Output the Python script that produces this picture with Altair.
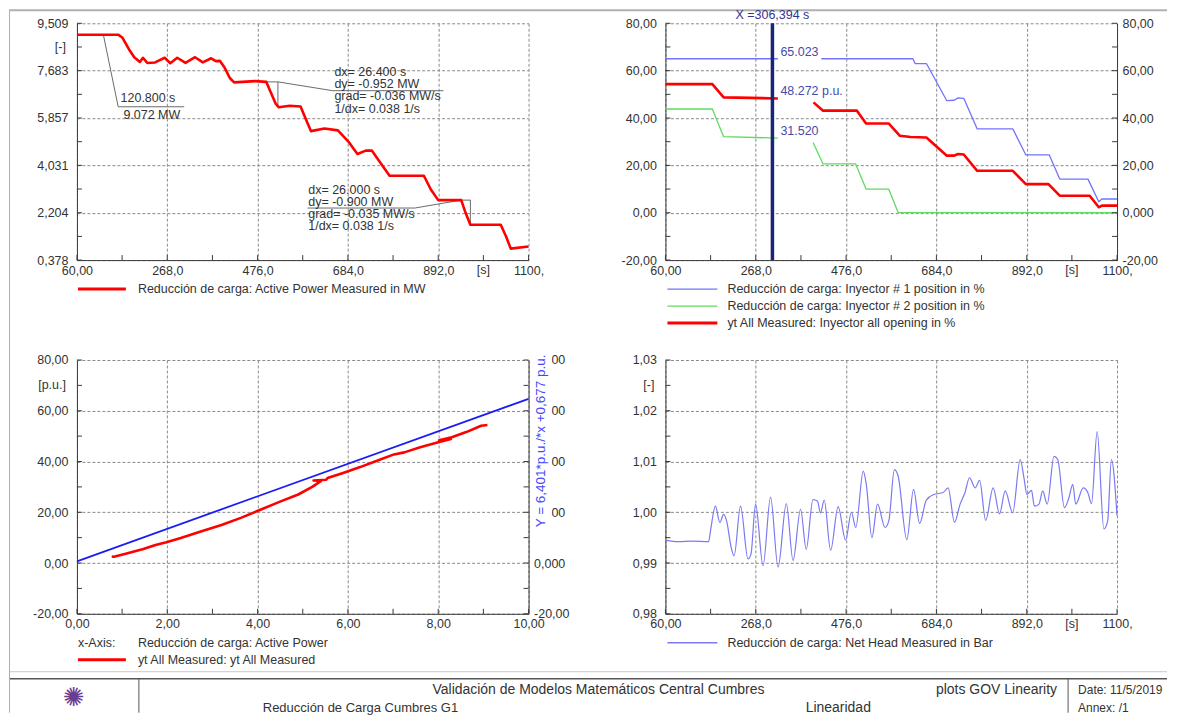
import altair as alt
import pandas as pd

FONT = "Liberation Sans"
FS = 12.5
W = 452
H1 = 237
H2 = 254
GRID = "#8a8a8a"
AXC = "#3a3a3a"
TXT = "#333333"
RED = "#ff0000"

# ---------------- shared time axis ----------------
T_MAJOR = [60, 268, 476, 684, 892, 1100]
T_LABELS = ["60,00", "268,0", "476,0", "684,0", "892,0", "1100,"]
T_MINOR = [164, 372, 580, 788, 996]

# ---------------- top-left: active power ----------------
MW_MAJOR = [0.378, 2.204, 4.031, 5.857, 7.683, 9.509]
MW_LABELS = ["0,378", "2,204", "4,031", "5,857", "7,683", "9,509"]
MW_MINOR = [1.291, 3.118, 4.944, 6.770, 8.596]

power_t = [60, 155, 165, 180, 192, 205, 212, 222, 240, 262, 275, 291, 310, 332, 350, 369, 380, 389,
           400, 412, 422, 470, 496, 505, 518, 525, 550, 575, 585, 599, 630, 661, 685, 706, 725, 739,
           760, 780, 859, 875, 892, 945, 955, 966, 1036, 1048, 1059, 1100]
power_mw = [9.07, 9.07, 8.95, 8.50, 8.20, 8.02, 8.18, 7.98, 8.00, 8.18, 7.97, 8.18, 7.98, 8.20, 8.00,
            8.16, 8.05, 8.06, 7.80, 7.40, 7.23, 7.28, 7.25, 6.90, 6.40, 6.27, 6.33, 6.30, 5.90, 5.35,
            5.45, 5.38, 4.95, 4.47, 4.60, 4.60, 4.10, 3.63, 3.63, 3.10, 2.69, 2.69, 2.20, 1.74, 1.74,
            1.30, 0.82, 0.90]

ann_t = [120.8, 155, 307, 496.4, 522.8, 522.8, 522.8, 522.8, 649, 904,
         940, 967, 966, 966, 945, 838, 591]
ann_v = [9.072, 6.29, 6.29, 7.25, 7.25, 7.25, 6.30, 7.25, 6.91, 6.91,
         2.69, 2.69, 2.69, 1.79, 2.69, 2.385, 2.385]
ann_g = [0, 0, 0, 1, 1, 2, 2, 3, 3, 3, 4, 4, 5, 5, 6, 6, 6]

ann_text = ["120.800 s", "9.072 MW",
            "dx= 26.400 s\ndy= -0.952  MW\ngrad= -0.036 MW/s\n1/dx= 0.038 1/s",
            "dx= 26.000 s\ndy= -0.900 MW\ngrad= -0.035 MW/s\n1/dx= 0.038 1/s"]
ann_text_t = [160.5, 167, 652.9, 592.7]
ann_text_v = [6.29, 6.29, 7.863, 3.323]

# ---------------- top-right: injectors ----------------
PCT_MAJOR = [-20, 0, 20, 40, 60, 80]
PCT_LABELS_L = ["-20,00", "0,00", "20,00", "40,00", "60,00", "80,00"]
PCT_LABELS_R = ["-20,00", "0,000", "20,00", "40,00", "60,00", "80,00"]
PCT_MINOR = [-10, 10, 30, 50, 70]

inj1_t = [60, 319, 419, 630, 635, 661, 708, 725, 734, 747, 778, 860, 890, 944, 968, 1033, 1058, 1065, 1100]
inj1_v = [65.02, 65.02, 65.02, 65.02, 63.0, 63.0, 47.3, 47.5, 48.5, 48.3, 35.4, 35.4, 24.4, 24.4,
          14.2, 14.2, 4.6, 5.8, 5.8]
inj1_seg = [0, 0] + [1] * 17

inj2_t = [60, 168, 194, 319, 400, 423, 498, 522, 574, 596, 1100]
inj2_v = [43.8, 43.8, 32.1, 31.52, 29.7, 20.6, 20.6, 10.0, 10.0, 0.1, 0.0]
inj2_seg = [0, 0, 0, 0, 1, 1, 1, 1, 1, 1, 1]

all_t = [60, 168, 194, 319, 401, 423, 501, 522, 574, 600, 625, 661, 708, 725, 734, 747, 778, 860,
         890, 942, 968, 1037, 1058, 1065, 1100]
all_v = [54.3, 54.3, 48.7, 48.27, 46.6, 43.1, 43.1, 37.7, 37.7, 32.5, 32.0, 31.8, 24.1, 24.1, 24.8,
         24.6, 17.7, 17.7, 12.1, 12.1, 7.2, 7.2, 2.3, 3.0, 3.0]
all_seg = [0, 0, 0, 0] + [1] * 21

cursor_t = 306.394
cursor_vals = [65.023, 48.272, 31.520]
cursor_labels = ["65.023", "48.272 p.u.", "31.520"]

# ---------------- bottom-left: linearity ----------------
PW_MAJOR = [0, 2, 4, 6, 8, 10]
PW_LABELS = ["0,00", "2,00", "4,00", "6,00", "8,00", "10,00"]
PW_MINOR = [1, 3, 5, 7, 9]

xy_power = [9.09, 8.95, 8.62, 8.30, 8.02, 8.28, 8.00, 7.60, 7.25, 7.02, 6.60, 6.27, 5.91, 5.55,
            5.52, 5.24, 5.40, 5.20, 4.90, 4.47, 4.01, 3.63, 3.20, 2.69, 2.30, 1.98, 1.74, 1.47,
            1.10, 0.82, 0.77]
xy_open = [54.4, 54.1, 51.6, 49.6, 48.4, 48.9, 47.6, 45.6, 43.6, 42.8, 40.0, 37.8, 35.6, 33.5,
           32.8, 32.5, 32.3, 29.9, 27.0, 24.0, 20.6, 17.8, 15.0, 12.1, 9.9, 8.2, 7.1, 5.5,
           3.8, 2.5, 2.6]
fit_power = [0.0, 10.0]
fit_open = [0.677, 64.687]

# ---------------- bottom-right: net head ----------------
HEAD_MAJOR = [0.98, 0.99, 1.00, 1.01, 1.02, 1.03]
HEAD_LABELS = ["0,98", "0,99", "1,00", "1,01", "1,02", "1,03"]
HEAD_MINOR = [0.985, 0.995, 1.005, 1.015, 1.025]

head_t = [60, 90, 120, 159.4, 163.7, 175, 185.4, 194, 200.9, 211.3, 218.2, 232.9, 250.2, 257.1,
          267.5, 284.8, 302.1, 319.4, 338.4, 353.9, 371.2, 384.2, 399.7, 410.1, 417, 425.7, 440.4,
          457.7, 474.9, 488.2, 498.3, 515.6, 522.5, 535.5, 548.4, 565.7, 574.4, 587.3, 596, 615.9,
          631.4, 645.3, 660.8, 678.1, 699.7, 711, 725.7, 738.6, 749.9, 760.2, 773.2, 783.6, 797.4,
          814.7, 829.4, 842.4, 859.7, 877, 885.6, 892.5, 902.9, 909.8, 920.2, 928.8, 939.2, 954.8,
          963.4, 978.9, 989.3, 998, 1004.9, 1022.2, 1032.6, 1041.2, 1054.2, 1069.7, 1078.4, 1087, 1100]
head_v = [0.9945, 0.9942, 0.9943, 0.9942, 0.9963, 1.0012, 0.9980, 0.9996, 0.9983, 0.9931, 0.9914,
          1.0012, 0.9908, 0.9918, 1.0016, 0.9895, 1.0030, 0.9892, 1.0017, 0.9905, 1.0006, 0.9927,
          1.0025, 1.0022, 0.9999, 1.0024, 0.9925, 1.0011, 0.9945, 1.0000, 0.9970, 1.0081, 1.0055,
          0.9950, 1.0016, 0.9970, 0.9983, 1.0084, 1.0071, 0.9946, 1.0045, 0.9978, 1.0024, 1.0035,
          1.0039, 1.0048, 0.9980, 1.0016, 1.0039, 1.0068, 1.0048, 1.0063, 0.9984, 1.0048, 0.9997,
          1.0042, 0.9999, 1.0104, 1.0068, 1.0035, 1.0043, 1.0012, 1.0016, 1.0042, 1.0016, 1.0110,
          1.0104, 1.0009, 1.0029, 1.0055, 1.0016, 1.0048, 1.0039, 1.0017, 1.0159, 0.9967, 0.9983,
          1.0104, 0.9993]


# ---------------- helpers ----------------
def lab_expr(values, labels):
    s = ""
    for v, l in zip(values, labels):
        s += f"abs(datum.value - ({v})) < 0.000001 ? '{l}' : "
    return s + "''"


def mk_axis(values, labels, orient, pad, grid=True):
    return alt.Axis(values=values, labelExpr=lab_expr(values, labels), orient=orient,
                    grid=grid, gridDash=[3, 2], gridColor=GRID, gridWidth=1,
                    ticks=False, tickSize=0, domain=True, domainColor=AXC, domainWidth=1,
                    labelFont=FONT, labelFontSize=FS, labelColor=TXT, labelPadding=pad,
                    labelFlush=False, labelOverlap=False, title=None, zindex=0)


ONE = pd.DataFrame({"a": [0]})


def txt(s, x, y, align="left", baseline="middle", color=TXT, size=FS, font=FONT, **kw):
    return alt.Chart(ONE).mark_text(text=s, align=align, baseline=baseline, color=color,
                                    font=font, fontSize=size, **kw).encode(
        x=alt.value(x), y=alt.value(y))


def hline(x1, x2, y, color, width):
    return alt.Chart(ONE).mark_rule(color=color, strokeWidth=width).encode(
        x=alt.value(x1), x2=alt.value(x2), y=alt.value(y))


def vline(x, y1, y2, color, width):
    return alt.Chart(ONE).mark_rule(color=color, strokeWidth=width).encode(
        x=alt.value(x), y=alt.value(y1), y2=alt.value(y2))


def ticks_x(vals, xenc, h, field="t"):
    return alt.Chart(pd.DataFrame({field: vals})).mark_rule(color=AXC, strokeWidth=1).encode(
        x=xenc, y=alt.value(h - 5), y2=alt.value(h))


def ticks_y(vals, yenc, x0, x1):
    return alt.Chart(pd.DataFrame({"v": vals})).mark_rule(color=AXC, strokeWidth=1).encode(
        y=yenc, x=alt.value(x0), x2=alt.value(x1))


def series(xs, ys, xenc, yenc, color, width, seg=None, field="t", ordered=False,
           interp="linear"):
    df = pd.DataFrame({field: xs, "v": ys, "s": seg if seg else [0] * len(xs),
                       "i": list(range(len(xs)))})
    enc = dict(x=xenc, y=yenc, detail="s:N")
    if ordered:
        enc["order"] = alt.Order("i:Q")
    return alt.Chart(df).mark_line(color=color, strokeWidth=width, strokeJoin="round",
                                   strokeCap="butt", interpolate=interp).encode(**enc)


t_scale = alt.Scale(domain=[60, 1100], nice=False, zero=False)
tx = alt.X("t:Q", scale=t_scale, axis=mk_axis(T_MAJOR, T_LABELS, "bottom", 4))

# ---------------- top-left panel ----------------
mw_y = alt.Y("v:Q", scale=alt.Scale(domain=[0.378, 9.509], nice=False, zero=False),
             axis=mk_axis(MW_MAJOR, MW_LABELS, "left", 9))

ann_df = pd.DataFrame({"t": ann_t, "v": ann_v, "g": ann_g, "i": list(range(len(ann_t)))})
ann_lines = alt.Chart(ann_df).mark_line(color="#6a6a6a", strokeWidth=1).encode(
    x=tx, y=mw_y, detail="g:N", order="i:Q")


def ann_txt(k, baseline, dy):
    df = pd.DataFrame({"t": [ann_text_t[k]], "v": [ann_text_v[k]]})
    return alt.Chart(df).mark_text(text=ann_text[k], align="left", baseline=baseline, dy=dy,
                                   font=FONT, fontSize=FS, color=TXT, lineBreak="\n",
                                   lineHeight=12.2).encode(x=tx, y=mw_y)


tl = alt.layer(
    ticks_x(T_MAJOR + T_MINOR, tx, H1),
    ticks_y(MW_MAJOR + MW_MINOR, mw_y, 0, 5),
    ann_lines,
    series(power_t, power_mw, tx, mw_y, RED, 2.6),
    ann_txt(0, "bottom", -2),
    ann_txt(1, "top", 2),
    ann_txt(2, "top", 0),
    ann_txt(3, "top", 0),
    alt.Chart(pd.DataFrame({"v": [8.596]})).mark_text(
        text="[-]", align="right", baseline="middle", font=FONT, fontSize=FS, color=TXT).encode(
        y=mw_y, x=alt.value(-11)),
    alt.Chart(pd.DataFrame({"t": [996]})).mark_text(
        text="[s]", align="center", baseline="top", font=FONT, fontSize=FS, color=TXT).encode(
        x=tx, y=alt.value(H1 + 4)),
    hline(1, 49, 266, RED, 3),
    txt("Reducción de carga: Active Power Measured in MW", 61, 266),
    # page frame and footer (positions relative to this panel's plot origin)
    hline(-67, 1091, -13, "#b0b0b0", 2),
    vline(-67.5, -14, 690, "#b0b0b0", 1),
    hline(-67, 1091, 649, "#c8c8c8", 1),
    hline(-67, 1091, 656, "#555555", 1.5),
    vline(62, 656, 690, "#555555", 1),
    vline(992, 656, 690, "#555555", 1),
    txt("✺", -3, 675, align="center", size=26, color="#6a3d8f", font="DejaVu Sans"),
    txt("Validación de Modelos Matemáticos Central Cumbres", 522, 667, align="center", size=14),
    txt("plots GOV Linearity", 981, 667, align="right", size=14),
    txt("Date: 11/5/2019", 1002, 667, size=12),
    txt("Reducción de Carga Cumbres G1", 186, 685, size=13),
    txt("Linearidad", 762, 685, align="center", size=14),
    txt("Annex:   /1", 1002, 685, size=12),
).properties(width=W, height=H1)

# ---------------- top-right panel ----------------
pct_scale = alt.Scale(domain=[-20, 80], nice=False, zero=False)
tr_y = alt.Y("v:Q", scale=pct_scale, axis=mk_axis(PCT_MAJOR, PCT_LABELS_L, "left", 9))
tr_yr = alt.Y("v:Q", scale=pct_scale,
              axis=mk_axis(PCT_MAJOR, PCT_LABELS_R, "right", 5, grid=False))

cur_df = pd.DataFrame({"t": [cursor_t] * 3, "v": cursor_vals, "lab": cursor_labels})

tr_left = alt.layer(
    ticks_x(T_MAJOR + T_MINOR, tx, H1),
    ticks_y(PCT_MAJOR + PCT_MINOR, tr_y, 0, 5),
    series(inj1_t, inj1_v, tx, tr_y, "#7373ff", 1.3, inj1_seg),
    series(inj2_t, inj2_v, tx, tr_y, "#5fdc5f", 1.3, inj2_seg),
    series(all_t, all_v, tx, tr_y, RED, 2.6, all_seg),
    alt.Chart(pd.DataFrame({"t": [cursor_t]})).mark_rule(color="#1c2478", strokeWidth=3.5).encode(
        x=tx, y=alt.value(0), y2=alt.value(H1)),
    alt.Chart(pd.DataFrame({"t": [cursor_t]})).mark_text(
        text="X =306,394 s", align="center", baseline="middle", font=FONT, fontSize=FS,
        color="#33338f").encode(x=tx, y=alt.value(-8)),
    alt.Chart(cur_df).mark_text(align="left", baseline="bottom", dx=8, dy=0, font=FONT,
                                fontSize=FS, color="#4a4aa8").encode(x=tx, y=tr_y, text="lab:N"),
    alt.Chart(pd.DataFrame({"t": [996]})).mark_text(
        text="[s]", align="center", baseline="top", font=FONT, fontSize=FS, color=TXT).encode(
        x=tx, y=alt.value(H1 + 4)),
    hline(2, 52, 266, "#7373ff", 1.3),
    hline(2, 52, 283, "#5fdc5f", 1.3),
    hline(2, 52, 300, RED, 3),
    txt("Reducción de carga: Inyector # 1 position in %", 62, 266),
    txt("Reducción de carga: Inyector # 2 position in %", 62, 283),
    txt("yt All Measured: Inyector all opening in %", 62, 300),
)
tr = alt.layer(
    tr_left,
    ticks_y(PCT_MAJOR + PCT_MINOR, tr_yr, W - 5, W),
).resolve_scale(y="independent").properties(width=W, height=H1)

# ---------------- bottom-left panel ----------------
pw_x = alt.X("p:Q", scale=alt.Scale(domain=[0, 10], nice=False, zero=False),
             axis=mk_axis(PW_MAJOR, PW_LABELS, "bottom", 4))
bl_y = alt.Y("v:Q", scale=pct_scale, axis=mk_axis(PCT_MAJOR, PCT_LABELS_L, "left", 9))
bl_yr = alt.Y("v:Q", scale=pct_scale,
              axis=mk_axis(PCT_MAJOR, PCT_LABELS_R, "right", 5, grid=False))

bl_left = alt.layer(
    ticks_x(PW_MAJOR + PW_MINOR, pw_x, H2, field="p"),
    ticks_y(PCT_MAJOR + PCT_MINOR, bl_y, 0, 5),
    series(fit_power, fit_open, pw_x, bl_y, "#1c1cf5", 1.8, field="p"),
    series(xy_power, xy_open, pw_x, bl_y, RED, 2.6, field="p", ordered=True),
    alt.Chart(pd.DataFrame({"v": [70]})).mark_text(
        text="[p.u.]", align="right", baseline="middle", font=FONT, fontSize=FS, color=TXT).encode(
        y=bl_y, x=alt.value(-11)),
    txt("x-Axis:", 1, 283),
    txt("Reducción de carga: Active Power", 61, 283),
    hline(1, 49, 300, RED, 3),
    txt("yt All Measured: yt All Measured", 61, 300),
)
bl = alt.layer(
    bl_left,
    ticks_y(PCT_MAJOR + PCT_MINOR, bl_yr, W - 5, W),
    alt.Chart(ONE).mark_rect(color="white").encode(
        x=alt.value(W + 3), x2=alt.value(W + 23), y=alt.value(-7), y2=alt.value(172)),
    alt.Chart(ONE).mark_text(text="Y = 6,401*p.u./*x +0,677 p.u.", angle=270, align="center",
                             baseline="middle", font=FONT, fontSize=13.5, color="#4646ff").encode(
        x=alt.value(W + 12), y=alt.value(81)),
).resolve_scale(y="independent").properties(width=W, height=H2)

# ---------------- bottom-right panel ----------------
head_y = alt.Y("v:Q", scale=alt.Scale(domain=[0.98, 1.03], nice=False, zero=False),
               axis=mk_axis(HEAD_MAJOR, HEAD_LABELS, "left", 9))

br = alt.layer(
    ticks_x(T_MAJOR + T_MINOR, tx, H2),
    ticks_y(HEAD_MAJOR + HEAD_MINOR, head_y, 0, 5),
    series(head_t, head_v, tx, head_y, "#7a7af2", 1.2, interp="monotone"),
    alt.Chart(pd.DataFrame({"v": [1.025]})).mark_text(
        text="[-]", align="right", baseline="middle", font=FONT, fontSize=FS, color=TXT).encode(
        y=head_y, x=alt.value(-11)),
    alt.Chart(pd.DataFrame({"t": [996]})).mark_text(
        text="[s]", align="center", baseline="top", font=FONT, fontSize=FS, color=TXT).encode(
        x=tx, y=alt.value(H2 + 4)),
    hline(2, 52, 283, "#7a7af2", 1.3),
    txt("Reducción de carga: Net Head Measured in Bar", 62, 283),
).properties(width=W, height=H2)

chart = alt.concat(tl, tr, bl, br, columns=2, spacing={"row": 100, "column": 137},
                   bounds="flush").properties(
    padding={"left": 0, "top": 0, "right": 0, "bottom": 0}, background="white"
).configure_view(stroke="transparent")

chart.save("out.html", embed_options={"renderer": "svg", "actions": False})
